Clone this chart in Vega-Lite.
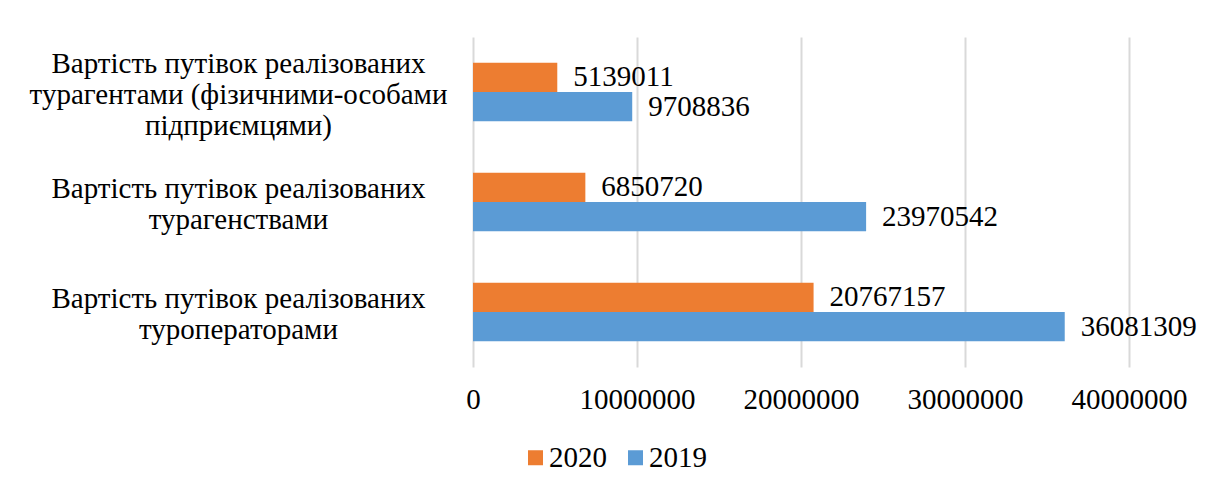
{
  "$schema": "https://vega.github.io/schema/vega-lite/v6.json",
  "width": 656,
  "height": 330,
  "autosize": {"type": "none"},
  "padding": {"left": 473, "top": 37, "right": 76, "bottom": 123},
  "background": "white",
  "config": {
    "font": "Liberation Serif",
    "view": {"stroke": null},
    "axis": {"labelFont": "Liberation Serif"},
    "legend": {"labelFont": "Liberation Serif"},
    "text": {"font": "Liberation Serif"}
  },
  "data": {
    "values": [
      {"cat": "Вартість путівок реалізованих|турагентами (фізичними-особами|підприємцями)", "year": "2020", "value": 5139011},
      {"cat": "Вартість путівок реалізованих|турагентами (фізичними-особами|підприємцями)", "year": "2019", "value": 9708836},
      {"cat": "Вартість путівок реалізованих|турагенствами", "year": "2020", "value": 6850720},
      {"cat": "Вартість путівок реалізованих|турагенствами", "year": "2019", "value": 23970542},
      {"cat": "Вартість путівок реалізованих|туроператорами", "year": "2020", "value": 20767157},
      {"cat": "Вартість путівок реалізованих|туроператорами", "year": "2019", "value": 36081309}
    ]
  },
  "encoding": {
    "y": {
      "field": "cat",
      "type": "nominal",
      "sort": [
        "Вартість путівок реалізованих|турагентами (фізичними-особами|підприємцями)",
        "Вартість путівок реалізованих|турагенствами",
        "Вартість путівок реалізованих|туроператорами"
      ],
      "scale": {"paddingInner": 0.47, "paddingOuter": 0.235},
      "axis": {
        "title": null,
        "domain": false,
        "ticks": false,
        "labelAlign": "center",
        "labelBaseline": "middle",
        "labelPadding": 235,
        "labelFont": "Liberation Serif",
        "labelFontSize": 29,
        "labelColor": "black",
        "labelLimit": 0,
        "labelLineHeight": 31,
        "labelOffset": {"condition": {"test": "indexof(datum.label, 'підприємцями') >= 0", "value": -28}, "value": -13},
        "labelExpr": "split(datum.label, '|')"
      }
    },
    "yOffset": {
      "field": "year",
      "type": "nominal",
      "sort": ["2020", "2019"],
      "scale": {"paddingInner": 0, "paddingOuter": 0}
    },
    "x": {
      "field": "value",
      "type": "quantitative",
      "scale": {"domain": [0, 40000000], "nice": false},
      "axis": {
        "title": null,
        "values": [0, 10000000, 20000000, 30000000, 40000000],
        "format": "d",
        "domain": false,
        "ticks": false,
        "grid": true,
        "gridColor": "#d9d9d9",
        "gridWidth": 2,
        "labelFont": "Liberation Serif",
        "labelFontSize": 29,
        "labelColor": "black",
        "labelPadding": 18,
        "labelFlush": false
      }
    }
  },
  "layer": [
    {
      "mark": {"type": "bar"},
      "encoding": {
        "color": {
          "field": "year",
          "type": "nominal",
          "scale": {"domain": ["2020", "2019"], "range": ["#ED7D31", "#5B9BD5"]},
          "legend": {
            "title": null,
            "orient": "none",
            "legendX": 48,
            "legendY": 406,
            "direction": "horizontal",
            "symbolType": "square",
            "symbolSize": 225,
            "symbolStrokeWidth": 0,
            "labelFont": "Liberation Serif",
            "labelFontSize": 29,
            "labelColor": "black",
            "labelOffset": -1,
            "columnPadding": 14
          }
        }
      }
    },
    {
      "mark": {"type": "text", "align": "left", "baseline": "middle", "dx": 16, "fontSize": 29, "font": "Liberation Serif", "color": "black"},
      "encoding": {"text": {"field": "value", "type": "quantitative", "format": "d"}}
    }
  ]
}
